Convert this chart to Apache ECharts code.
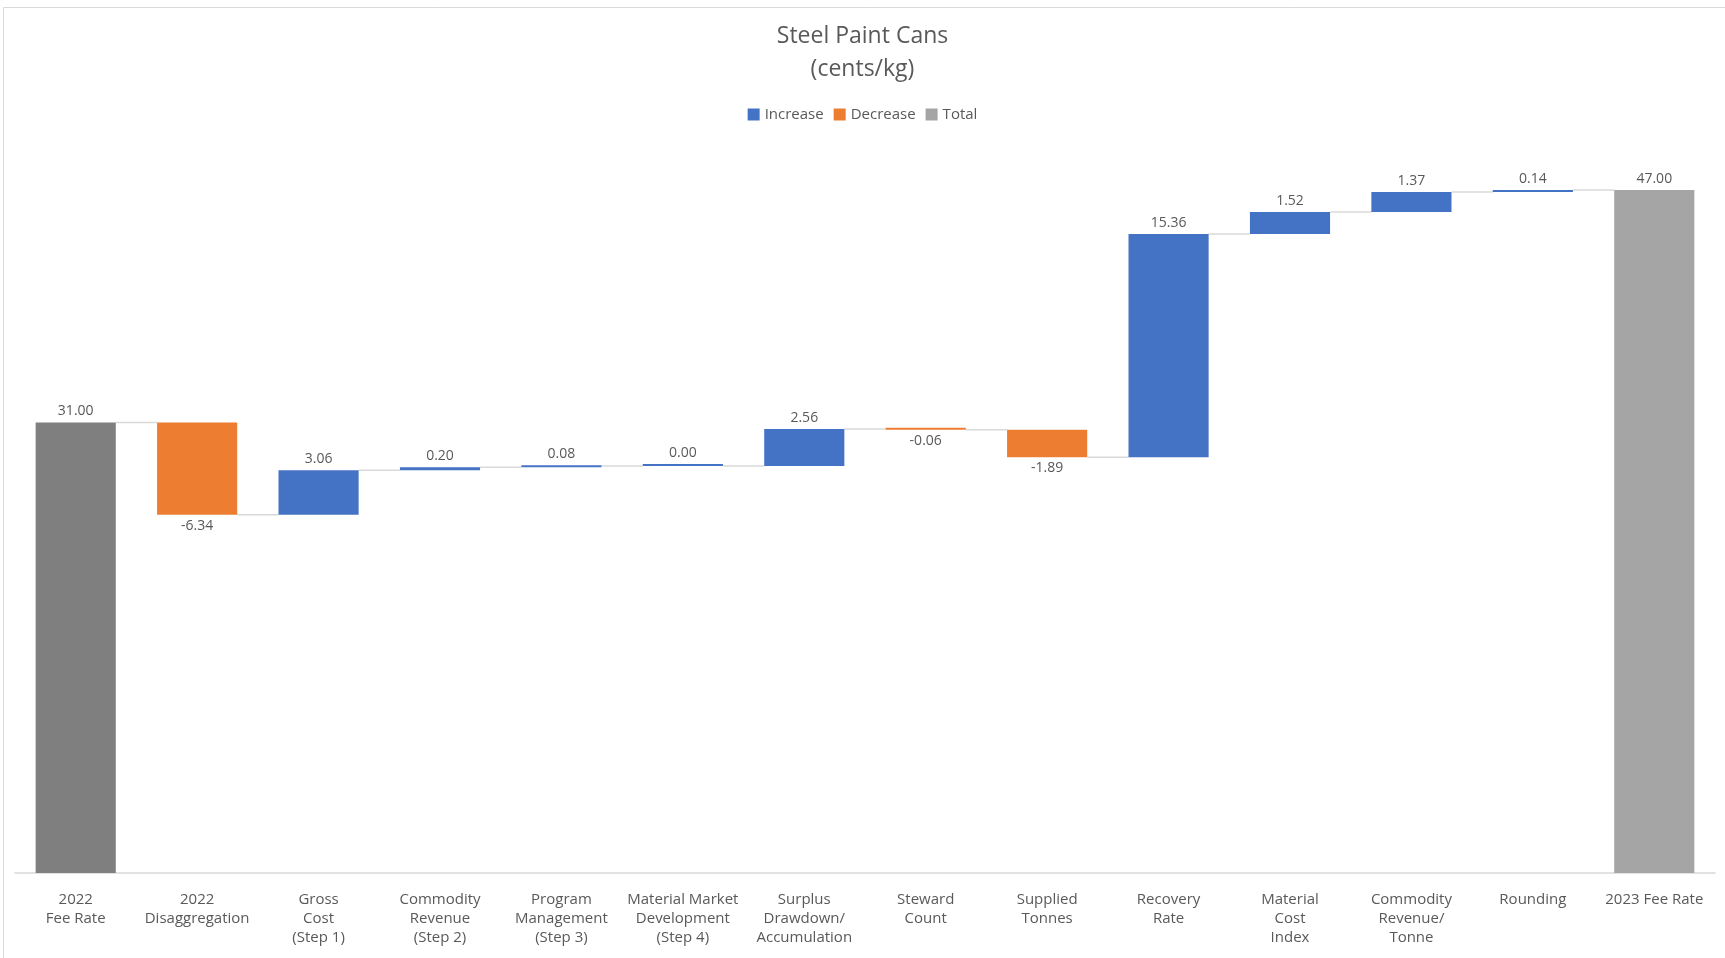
<!DOCTYPE html>
<html>
<head>
<meta charset="utf-8">
<script src="https://cdn.jsdelivr.net/npm/echarts@6/dist/echarts.min.js"></script>
<style>
html,body{margin:0;padding:0;background:#fff;}
#chart{width:1725px;height:958px;}
</style>
</head>
<body>
<div id="chart"></div>
<script>
const categories = ['2022\nFee Rate', '2022\nDisaggregation', 'Gross\nCost\n(Step 1)', 'Commodity\nRevenue\n(Step 2)', 'Program\nManagement\n(Step 3)', 'Material Market\nDevelopment\n(Step 4)', 'Surplus\nDrawdown/\nAccumulation', 'Steward\nCount', 'Supplied\nTonnes', 'Recovery\nRate', 'Material\nCost\nIndex', 'Commodity\nRevenue/\nTonne', 'Rounding', '2023 Fee Rate'];
const startTotal = 31.00;
const changes = [-6.34, 3.06, 0.20, 0.08, 0.00, 2.56, -0.06, -1.89, 15.36, 1.52, 1.37, 0.14];
const endTotal = 47.00;

const r2 = v => Math.round(v * 100) / 100;
const base = [], inc = [], dec = [], tot = [], levels = [];
base.push(0); inc.push('-'); dec.push('-');
tot.push({ value: startTotal, itemStyle: { color: '#7F7F7F' } });
let run = startTotal;
levels.push([0, run]);
changes.forEach((c, i) => {
  const next = r2(run + c);
  if (c >= 0) { base.push(run); inc.push(c); dec.push('-'); }
  else { base.push(next); inc.push('-'); dec.push(-c); }
  tot.push('-');
  run = next;
  levels.push([i + 1, run]);
});
base.push(0); inc.push('-'); dec.push('-'); tot.push({ value: endTotal, itemStyle: { color: '#A5A5A5' } });

const font = '"Open Sans", sans-serif';
const chart = echarts.init(document.getElementById('chart'));
chart.setOption({
  animation: false,
  backgroundColor: '#fff',
  graphic: [{ type: 'rect', shape: { x: 3.5, y: 7.5, width: 1730, height: 960 }, style: { fill: 'none', stroke: '#D9D9D9', lineWidth: 1 }, silent: true }],
  title: {
    text: 'Steel Paint Cans\n(cents/kg)', left: 'center', top: 15,
    textStyle: { fontFamily: font, fontSize: 23, fontWeight: 'normal', color: '#595959', lineHeight: 33 }
  },
  legend: {
    data: ['Increase', 'Decrease', 'Total'], top: 102, left: 'center',
    icon: 'rect', itemWidth: 12, itemHeight: 12, itemGap: 10,
    textStyle: { fontFamily: font, fontSize: 15, color: '#595959' }
  },
  grid: { left: 15, right: 10, top: 190, bottom: 85 },
  xAxis: {
    type: 'category', data: categories,
    axisTick: { show: false },
    axisLine: { lineStyle: { color: '#D9D9D9', width: 1.5 } },
    axisLabel: { interval: 0, fontFamily: font, fontSize: 15, color: '#595959', lineHeight: 19, margin: 17 }
  },
  yAxis: { type: 'value', min: 0, max: 47, show: false, splitLine: { show: false } },
  series: [
    { name: 'base', type: 'bar', stack: 'w', data: base, barWidth: '66%', itemStyle: { color: 'transparent' }, silent: true },
    { name: 'Increase', type: 'bar', stack: 'w', data: inc, barMinHeight: 2, itemStyle: { color: '#4472C4' },
      label: { show: true, position: 'top', distance: 4, fontFamily: font, fontSize: 14, color: '#595959', formatter: p => Number(p.value).toFixed(2) } },
    { name: 'Decrease', type: 'bar', stack: 'w', data: dec, barMinHeight: 2, itemStyle: { color: '#ED7D31' },
      label: { show: true, position: 'bottom', distance: 4, fontFamily: font, fontSize: 14, color: '#595959', formatter: p => (-Number(p.value)).toFixed(2) } },
    { name: 'Total', type: 'bar', stack: 'w', data: tot, itemStyle: { color: '#A5A5A5' },
      label: { show: true, position: 'top', distance: 4, fontFamily: font, fontSize: 14, color: '#595959', formatter: p => Number(p.value).toFixed(2) } },
    { name: 'connector', type: 'custom', data: levels, silent: true, z: 1,
      renderItem: (params, api) => {
        const i = api.value(0);
        if (i >= categories.length - 1) return null;
        const y = api.coord([i, api.value(1)])[1];
        const band = api.size([1, 0])[0];
        const half = band * 0.33;
        const x1 = api.coord([i, 0])[0] + half;
        const x2 = api.coord([i + 1, 0])[0] - half;
        return { type: 'line', shape: { x1, y1: y, x2, y2: y }, style: { stroke: '#D9D9D9', lineWidth: 1.5 } };
      },
      encode: { x: 0, y: 1 }
    }
  ]
});
</script>
</body>
</html>
